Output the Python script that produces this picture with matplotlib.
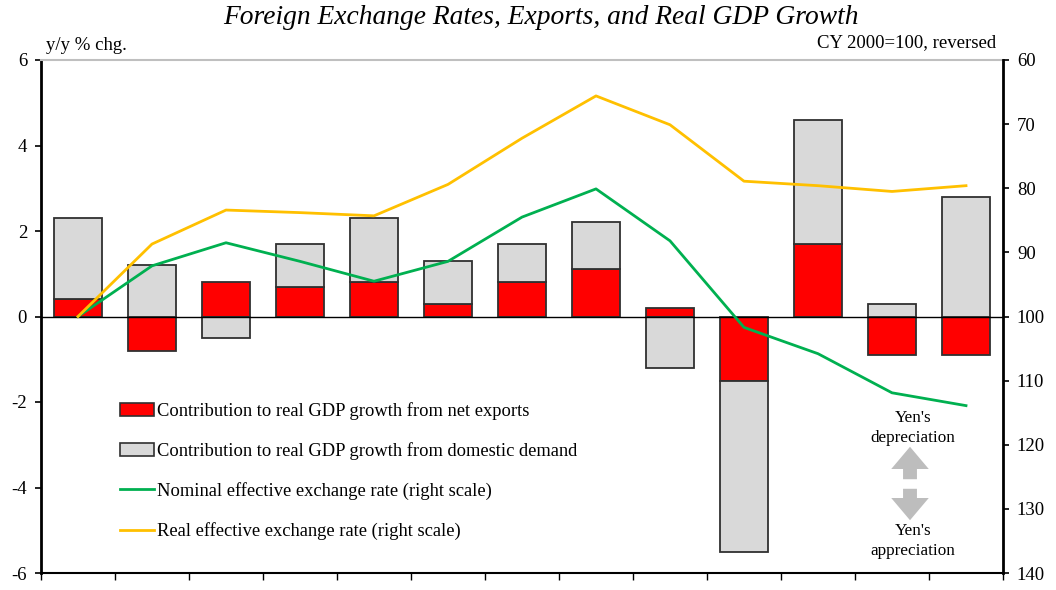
import matplotlib
matplotlib.use("Agg")
import matplotlib.pyplot as plt
import numpy as np
from matplotlib.patches import Patch, FancyArrowPatch
from matplotlib.lines import Line2D

# Calendar years 2000-2012
years = list(range(2000, 2013))

# Contributions to real GDP growth (y/y % chg.)
net_exports = [0.4, -0.8, 0.8, 0.7, 0.8, 0.3, 0.8, 1.1, 0.2, -1.5, 1.7, -0.9, -0.9]
domestic_demand = [1.9, 1.2, -0.5, 1.0, 1.5, 1.0, 0.9, 1.1, -1.2, -4.0, 2.9, 0.3, 2.8]

# Effective exchange rates (CY 2000 = 100)
nominal_eer = [100.0, 92.1, 88.5, 91.4, 94.5, 91.4, 84.5, 80.1, 88.2, 101.7, 105.8, 111.9, 113.9]
real_eer = [100.0, 88.7, 83.4, 83.8, 84.3, 79.4, 72.2, 65.6, 70.1, 78.9, 79.6, 80.5, 79.6]

plt.rcParams["font.family"] = ["Liberation Serif", "DejaVu Serif"]
plt.rcParams["axes.unicode_minus"] = False

RED = "#FF0000"
GREY = "#D9D9D9"
GREEN = "#00B050"
GOLD = "#FFC000"
EDGE = "#303030"

fig = plt.figure(figsize=(10.56, 5.90), dpi=100)
ax = fig.add_axes([41 / 1056, 1 - 573 / 590, (1003 - 41) / 1056, (573 - 60) / 590])

x = np.arange(len(years))
net = np.array(net_exports)
dom = np.array(domestic_demand)

# Stack positives upward and negatives downward, net exports first
net_base = np.zeros_like(net)
dom_base = np.where(np.sign(dom) == np.sign(net), net, 0.0)

width = 0.66
ax.bar(x, net, width, bottom=net_base, color=RED, edgecolor=EDGE, linewidth=1.3, zorder=2)
ax.bar(x, dom, width, bottom=dom_base, color=GREY, edgecolor=EDGE, linewidth=1.3, zorder=2)
ax.axhline(0, color="black", linewidth=1.0, zorder=3)

ax.set_xlim(-0.5, len(years) - 0.5)
ax.set_ylim(-6, 6)
ax.set_yticks(np.arange(-6, 7, 2))
ax.set_xticks(np.arange(-0.5, len(years), 1.0))
ax.set_xticklabels([])
ax.tick_params(axis="x", direction="out", length=5, width=1.0)
ax.tick_params(axis="y", direction="out", length=4, width=1.2, labelsize=13.5, pad=6)

for side in ("left", "bottom"):
    ax.spines[side].set_color("black")
ax.spines["left"].set_linewidth(2.0)
ax.spines["bottom"].set_linewidth(1.5)
ax.spines["top"].set_color("#BFBFBF")
ax.spines["top"].set_linewidth(1.5)
ax.spines["right"].set_visible(False)

ax2 = ax.twinx()
ax2.plot(x, nominal_eer, color=GREEN, linewidth=2.0, zorder=4)
ax2.plot(x, real_eer, color=GOLD, linewidth=2.0, zorder=4)
ax2.set_ylim(140, 60)
ax2.set_yticks(np.arange(60, 141, 10))
ax2.tick_params(axis="y", direction="out", length=4, width=1.2, labelsize=13.5, pad=6)
ax2.spines["right"].set_linewidth(2.0)
ax2.spines["right"].set_color("black")
for side in ("left", "top", "bottom"):
    ax2.spines[side].set_visible(False)

handles = [
    Patch(facecolor=RED, edgecolor=EDGE, linewidth=1.2),
    Patch(facecolor=GREY, edgecolor=EDGE, linewidth=1.2),
    Line2D([0], [0], color=GREEN, linewidth=2.0),
    Line2D([0], [0], color=GOLD, linewidth=2.0),
]
labels = [
    "Contribution to real GDP growth from net exports",
    "Contribution to real GDP growth from domestic demand",
    "Nominal effective exchange rate (right scale)",
    "Real effective exchange rate (right scale)",
]
ax2.legend(handles, labels, loc="upper left", bbox_to_anchor=(120 / 1056, 1 - 402 / 590),
           bbox_transform=fig.transFigure, frameon=False, fontsize=13.3,
           handlelength=1.85, handleheight=0.7, handletextpad=0.15, labelspacing=1.2,
           borderpad=0, borderaxespad=0)

# Direction annotation for the reversed right scale
fig.text(913 / 1056, 1 - 428 / 590, "Yen's\ndepreciation", ha="center", va="center",
         fontsize=12.3, linespacing=1.3)
fig.text(913 / 1056, 1 - 541 / 590, "Yen's\nappreciation", ha="center", va="center",
         fontsize=12.3, linespacing=1.3)
arrow_style = "simple,head_width=1.35,head_length=0.8,tail_width=0.5"
fig.patches.append(FancyArrowPatch(
    (910 / 1056, 1 - 482 / 590), (910 / 1056, 1 - 444 / 590), transform=fig.transFigure,
    arrowstyle=arrow_style, mutation_scale=20, color="#BDBDBD", linewidth=0))
fig.patches.append(FancyArrowPatch(
    (910 / 1056, 1 - 486 / 590), (910 / 1056, 1 - 523 / 590), transform=fig.transFigure,
    arrowstyle=arrow_style, mutation_scale=20, color="#BDBDBD", linewidth=0))

fig.text(541 / 1056, 1 - 18 / 590, "Foreign Exchange Rates, Exports, and Real GDP Growth",
         ha="center", va="center", fontsize=19.8, style="italic")
fig.text(46 / 1056, 1 - 45 / 590, "y/y % chg.", ha="left", va="center", fontsize=13.5)
fig.text(996 / 1056, 1 - 43 / 590, "CY 2000=100, reversed", ha="right", va="center", fontsize=13.5)

fig.savefig("out.png", dpi=100)
